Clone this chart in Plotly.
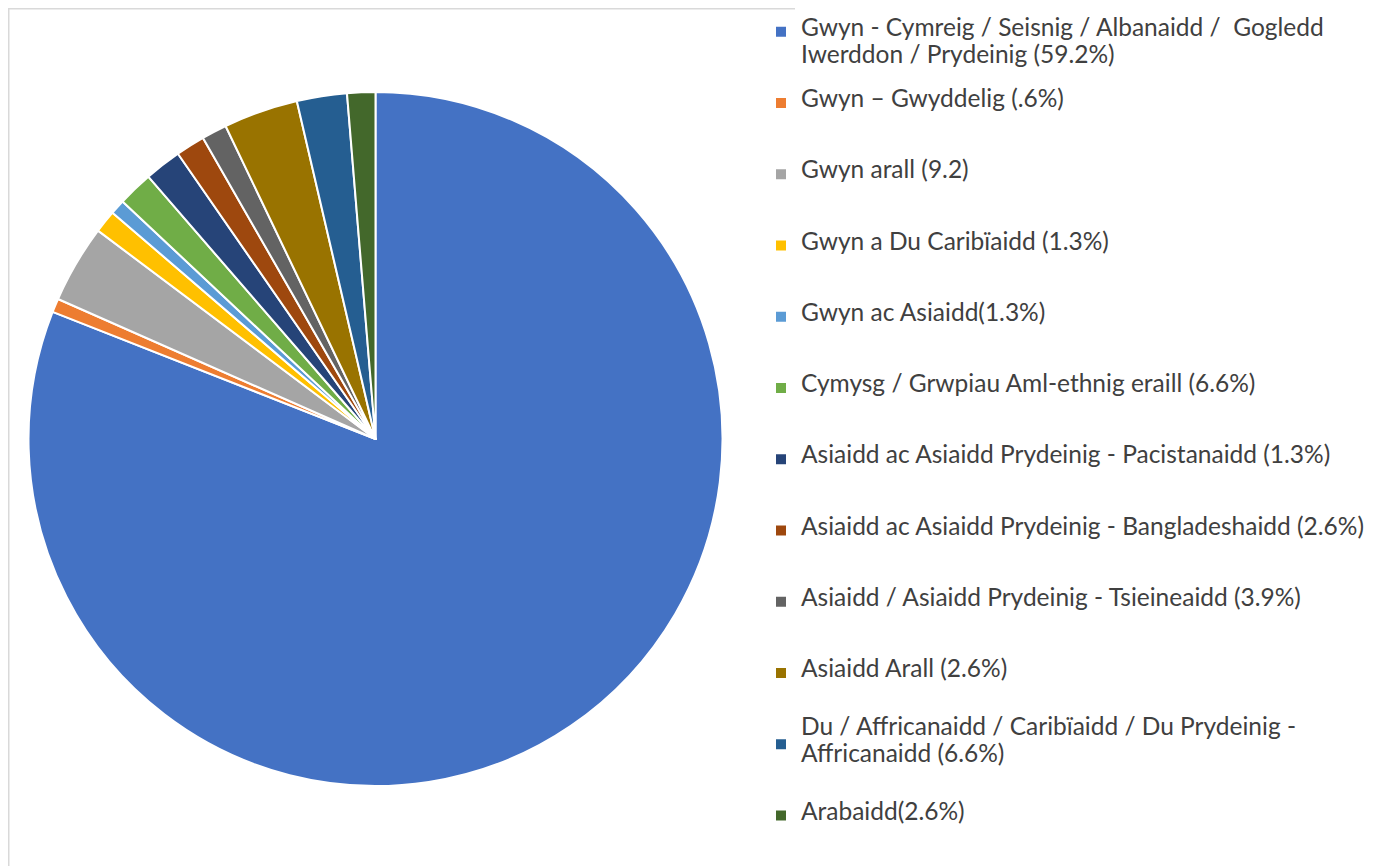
import plotly.graph_objects as go

# ---- data ----
categories = [
    "Gwyn - Cymreig / Seisnig / Albanaidd /  Gogledd|Iwerddon / Prydeinig (59.2%)",
    "Gwyn – Gwyddelig (.6%)",
    "Gwyn arall (9.2)",
    "Gwyn a Du Caribïaidd (1.3%)",
    "Gwyn ac Asiaidd(1.3%)",
    "Cymysg / Grwpiau Aml-ethnig eraill (6.6%)",
    "Asiaidd ac Asiaidd Prydeinig - Pacistanaidd (1.3%)",
    "Asiaidd ac Asiaidd Prydeinig - Bangladeshaidd (2.6%)",
    "Asiaidd / Asiaidd Prydeinig - Tsieineaidd (3.9%)",
    "Asiaidd Arall (2.6%)",
    "Du / Affricanaidd / Caribïaidd / Du Prydeinig -|Affricanaidd (6.6%)",
    "Arabaidd(2.6%)",
]
# slice sizes as drawn in the picture (percent of the pie)
values = [80.97, 0.64, 3.64, 1.06, 0.69, 1.64, 1.72, 1.36, 1.17, 3.47, 2.33, 1.31]
colors = ["#4472C4", "#ED7D31", "#A5A5A5", "#FFC000", "#5B9BD5", "#70AD47",
          "#264478", "#9E480E", "#636363", "#997300", "#255E91", "#43682B"]

# ---- legend text layout (5 line slots per entry for even spacing) ----
NB = "\u00a0"
TEXT_PX = 24.5


def legend_label(cat, idx):
    parts = cat.split("|")
    slots = [NB] * 5
    if len(parts) == 1:
        pos = [2]
    elif idx == 0:
        pos = [2, 4]
    else:
        pos = [1, 3]
    for p, t in zip(pos, parts):
        slots[p] = f'<span style="font-size:{TEXT_PX}px">{t}</span>'
    return "<br>".join(slots)


labels = [legend_label(c, i) for i, c in enumerate(categories)]

W, H = 1399, 866
OFF = 8  # page body margin
leg_font = 10.5
item_h = 5 * 1.3 * leg_font + 3
last_marker_page = 815.5
y_bottom_px = last_marker_page - OFF + 5 + item_h / 2

cx, cy, r = 375.5 - OFF, 439 - OFF, 347

fig = go.Figure(
    go.Pie(
        labels=labels,
        values=values,
        sort=False,
        direction="clockwise",
        rotation=0,
        textinfo="none",
        hoverinfo="percent",
        marker=dict(colors=colors, line=dict(color="white", width=2)),
        domain=dict(x=[(cx - r) / W, (cx + r) / W],
                    y=[1 - (cy + r) / H, 1 - (cy - r) / H]),
    )
)

fig.update_layout(
    width=W,
    height=H,
    margin=dict(l=0, r=0, t=0, b=0, autoexpand=False),
    paper_bgcolor="white",
    plot_bgcolor="white",
    showlegend=True,
    legend=dict(
        x=753 / W,
        xanchor="left",
        y=1 - y_bottom_px / H,
        yanchor="bottom",
        valign="middle",
        font=dict(family="Lato, 'Open Sans', sans-serif", size=leg_font, color="#404040"),
        bgcolor="rgba(0,0,0,0)",
        borderwidth=0,
        traceorder="normal",
    ),
    shapes=[
        dict(type="line", xref="paper", yref="paper", x0=0, x1=787 / W,
             y0=1 - 0.75 / H, y1=1 - 0.75 / H, line=dict(color="#d9d9d9", width=1.5)),
        dict(type="line", xref="paper", yref="paper", x0=0.75 / W, x1=0.75 / W,
             y0=0, y1=1, line=dict(color="#d9d9d9", width=1.5)),
    ],
)

fig.write_html("out.html")
